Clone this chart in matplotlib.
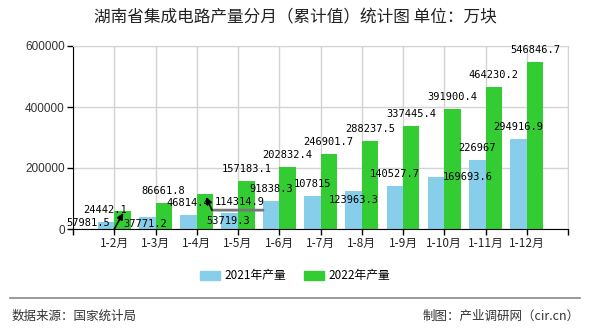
import numpy as np
import matplotlib
matplotlib.use('Agg')
import matplotlib.pyplot as plt
from matplotlib.patches import Patch
from matplotlib.transforms import ScaledTranslation

plt.rcParams['font.family'] = ['Noto Sans CJK SC', 'DejaVu Sans']

# Datos (万块)
meses = ['1-2月', '1-3月', '1-4月', '1-5月', '1-6月', '1-7月',
         '1-8月', '1-9月', '1-10月', '1-11月', '1-12月']
prod_2021 = [24442.1, 37771.2, 46814.4, 53719.3, 91838.3, 107815,
             123963.3, 140527.7, 169693.6, 226967, 294916.9]
prod_2022 = [57981.5, 86661.8, 114314.9, 157183.1, 202832.4, 246901.7,
             288237.5, 337445.4, 391900.4, 464230.2, 546846.7]
ticks_y = [0, 200000, 400000, 600000]

color_2021 = '#87CEEB'
color_2022 = '#33CC33'

# Etiquetas que no van justo encima de la barra (dx, dy en pixeles)
desplazamientos = {
    (2022, 0): (-34, -12),
    (2021, 0): (-1, 12),
    (2021, 1): (-2, -7),
    (2022, 2): (35, -8),
    (2021, 3): (-2, -8),
    (2021, 6): (0, -9),
    (2021, 8): (32, 0),
}


def texto(v):
    return f'{v:.1f}'.rstrip('0').rstrip('.')


fig = plt.figure(figsize=(5.9, 3.3), dpi=100)
ax = fig.add_axes([73 / 590, 1 - 229 / 330, 495 / 590, 183 / 330])

x = np.arange(1, len(meses) + 1)
ancho = 0.4
ax.bar(x - ancho / 2, prod_2021, ancho, color=color_2021, zorder=2)
ax.bar(x + ancho / 2, prod_2022, ancho, color=color_2022, zorder=2)

ax.set_xlim(0, len(meses) + 1)
ax.set_ylim(0, 600000)
ax.set_xticks(np.arange(0, len(meses) + 2))
ax.set_xticklabels([''] + meses + [''], fontsize=8.5, color='#222222')
ax.set_yticks(ticks_y)
ax.set_yticklabels([str(t) for t in ticks_y], fontsize=8.5,
                   family=['Liberation Sans'], color='#333333')
ax.tick_params(axis='both', length=4, width=1, pad=2)
ax.grid(True, color='#d3d3d3', lw=1, zorder=0)
for lado in ['top', 'right']:
    ax.spines[lado].set_color('#d3d3d3')
for lado in ['left', 'bottom']:
    ax.spines[lado].set_color('black')


def desplazar(dx, dy):
    return ax.transData + ScaledTranslation(dx / fig.dpi, dy / fig.dpi, fig.dpi_scale_trans)


# Etiquetas de valores
for anio, serie, signo in [(2021, prod_2021, -1), (2022, prod_2022, 1)]:
    for i, v in enumerate(serie):
        dx, dy = desplazamientos.get((anio, i), (0, 12))
        ax.annotate(texto(v), xy=(x[i] + signo * ancho / 2, v),
                    xytext=(dx, dy), textcoords='offset pixels',
                    ha='center', va='center', fontsize=7.5,
                    family=['DejaVu Sans Mono'], color='black', zorder=4)

# Flechas guia
ax.annotate('', xy=(x[0], 0), xycoords=desplazar(9, 16),
            xytext=(x[0], 0), textcoords=desplazar(0, 0),
            arrowprops=dict(arrowstyle='-|>', color='black', lw=1.2,
                            mutation_scale=9, shrinkA=0, shrinkB=0), zorder=4)
xg = x[2] + ancho / 2
vg = prod_2022[2]
ax.annotate('', xy=(xg, vg), xycoords=desplazar(58, -16),
            xytext=(xg, vg), textcoords=desplazar(7, -16),
            arrowprops=dict(arrowstyle='-', color='#777777', lw=2,
                            shrinkA=0, shrinkB=0), zorder=3)
ax.annotate('', xy=(xg, vg), xycoords=desplazar(1, -3),
            xytext=(xg, vg), textcoords=desplazar(7, -16),
            arrowprops=dict(arrowstyle='-|>', color='black', lw=1.2,
                            mutation_scale=9, shrinkA=0, shrinkB=0), zorder=4)

# Titulo
fig.text(0.5, 1 - 18 / 330, '湖南省集成电路产量分月（累计值）统计图 单位：万块',
         ha='center', va='center', fontsize=12, color='#222222')

# Leyenda
handles = [Patch(color=color_2021, label='2021年产量'),
           Patch(color=color_2022, label='2022年产量')]
fig.legend(handles=handles, loc='center', bbox_to_anchor=(0.5, 1 - 276 / 330),
           ncol=2, frameon=False, fontsize=8.5, handlelength=1.7,
           handleheight=0.7, columnspacing=1.5, handletextpad=0.4)

# Pie de pagina
fig.add_artist(plt.Line2D([10 / 590, 580 / 590], [1 - 298 / 330, 1 - 298 / 330],
                          color='#888888', lw=1.2))
fig.text(12 / 590, 1 - 316 / 330, '数据来源：国家统计局', ha='left', va='center',
         fontsize=9, color='#333333')
fig.text(580 / 590, 1 - 316 / 330, '制图：产业调研网（cir.cn）', ha='right', va='center',
         fontsize=9, color='#333333')

fig.savefig('out.png', dpi=100)
